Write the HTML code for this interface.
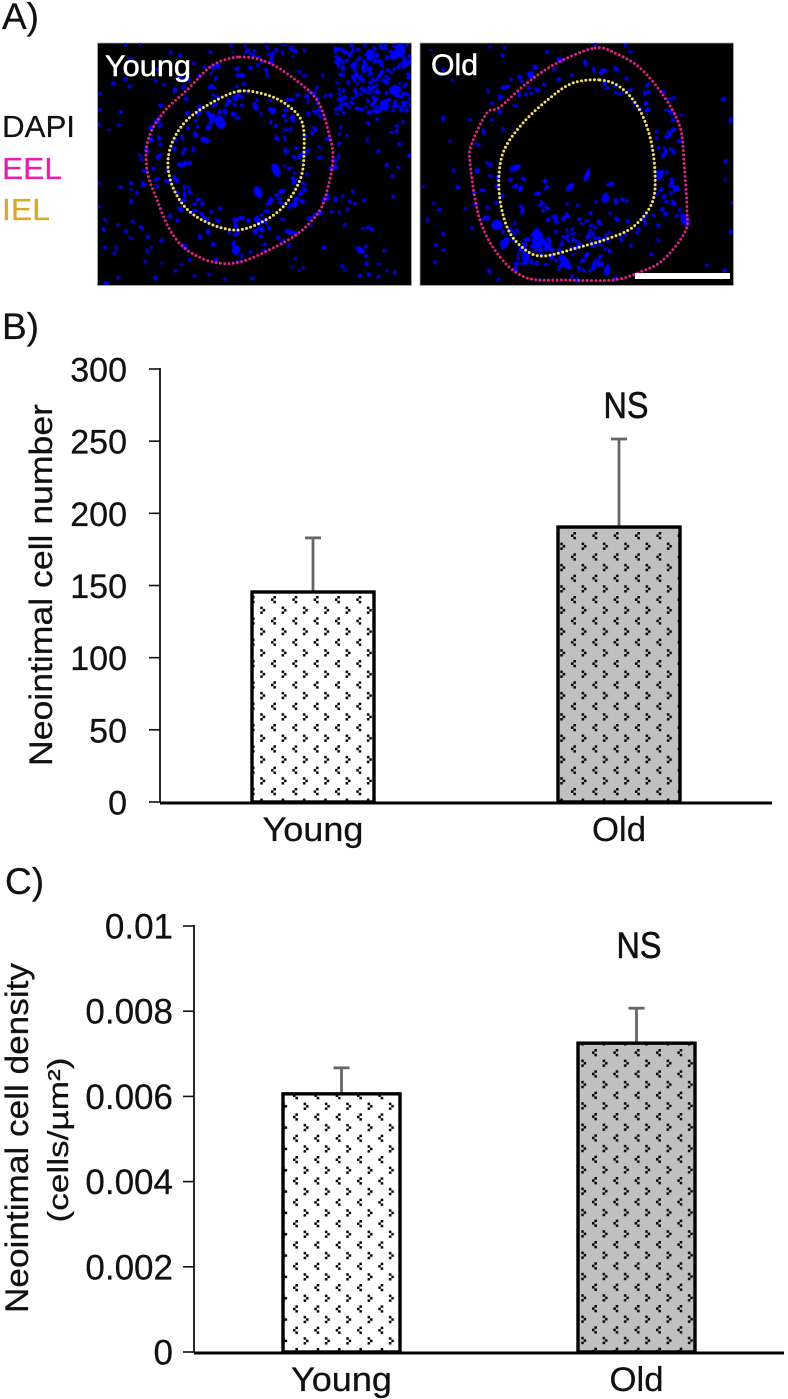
<!DOCTYPE html>
<html lang="en">
<head>
<meta charset="utf-8">
<title>Neointimal cell number and density, young vs old</title>
<style>
html,body{margin:0;padding:0;background:#fff;}
body{width:788px;height:1399px;overflow:hidden;}
svg{display:block;}
text{font-family:"Liberation Sans",sans-serif;fill:#111;stroke:#111;stroke-width:0.25px;}
</style>
</head>
<body>
<svg id="figure" xmlns="http://www.w3.org/2000/svg" width="788" height="1399" viewBox="0 0 788 1399">
  <defs>
    <filter id="soft" x="-5%" y="-5%" width="110%" height="110%"><feGaussianBlur stdDeviation="0.45"/></filter>
    <clipPath id="clip-young"><rect x="98" y="43" width="313" height="242"/></clipPath>
    <clipPath id="clip-old"><rect x="420" y="43" width="313" height="242"/></clipPath>
    <g id="chev-l"><rect x="2.4" y="0" width="2.5" height="2.5"/><rect x="0" y="2.4" width="2.5" height="2.5"/><rect x="2.4" y="4.8" width="2.5" height="2.5"/></g>
    <g id="chev-r"><rect x="0" y="0" width="2.5" height="2.5"/><rect x="2.4" y="2.4" width="2.5" height="2.5"/><rect x="0" y="4.8" width="2.5" height="2.5"/></g>
    <pattern id="dots-b-young" patternUnits="userSpaceOnUse" x="271" y="596" width="21.33" height="21.33"><use href="#chev-l"/><use href="#chev-r" x="10.6" y="10.6"/></pattern>
    <pattern id="dots-b-old" patternUnits="userSpaceOnUse" x="571" y="532" width="21.33" height="21.33"><use href="#chev-l"/><use href="#chev-r" x="10.6" y="10.6"/></pattern>
    <pattern id="dots-c-young" patternUnits="userSpaceOnUse" x="293" y="1220" width="21.33" height="21.33"><use href="#chev-l"/><use href="#chev-r" x="10.6" y="10.6"/></pattern>
    <pattern id="dots-c-old" patternUnits="userSpaceOnUse" x="592" y="1049" width="21.33" height="21.33"><use href="#chev-l"/><use href="#chev-r" x="10.6" y="10.6"/></pattern>
  </defs>

  <g id="panel-a">
    <text x="2" y="29" font-size="37">A)</text>
    <text x="2" y="137" font-size="31" textLength="73" lengthAdjust="spacingAndGlyphs">DAPI</text>
    <text x="2" y="179" font-size="31" textLength="60" lengthAdjust="spacingAndGlyphs" style="fill:#e81fae;stroke:#e81fae">EEL</text>
    <text x="2" y="220" font-size="31" textLength="48" lengthAdjust="spacingAndGlyphs" style="fill:#dba922;stroke:#dba922">IEL</text>

    <rect x="97.5" y="43" width="314" height="242.5" fill="#000" stroke="#aaa" stroke-width="0.8"/>
    <rect x="420" y="43" width="313.5" height="242.5" fill="#000" stroke="#aaa" stroke-width="0.8"/>
    <g id="young-nuclei" clip-path="url(#clip-young)" filter="url(#soft)"></g>
    <g id="old-nuclei" clip-path="url(#clip-old)" filter="url(#soft)"></g>
    <g id="rings"></g>
    <text x="105" y="76" font-size="30" textLength="86" lengthAdjust="spacingAndGlyphs" style="fill:#fff;stroke:#fff;stroke-width:0.5px">Young</text>
    <text x="431" y="75" font-size="30" textLength="47" lengthAdjust="spacingAndGlyphs" style="fill:#fff;stroke:#fff;stroke-width:0.5px">Old</text>
    <rect x="635" y="273" width="95" height="6" fill="#fff"/>
  </g>

  <text x="2" y="339" font-size="37">B)</text>
  <g id="chart-b"></g>
  <text x="5" y="894" font-size="37">C)</text>
  <g id="chart-c"></g>
</svg>

<script>
// Chart data
const categories = ['Young', 'Old'];
const cellNumberValues = [145.5, 190.5];
const cellNumberErrors = [37.5, 61];
const cellNumberTicks = [0, 50, 100, 150, 200, 250, 300];
const cellNumberTickLabels = ['0', '50', '100', '150', '200', '250', '300'];
const cellDensityValues = [0.00606, 0.00725];
const cellDensityErrors = [0.00061, 0.00082];
const cellDensityTicks = [0, 0.002, 0.004, 0.006, 0.008, 0.01];
const cellDensityTickLabels = ['0', '0.002', '0.004', '0.006', '0.008', '0.01'];

const SVG_NS = 'http://www.w3.org/2000/svg';
function make(parent, tag, attrs, text) {
  const el = document.createElementNS(SVG_NS, tag);
  for (const k in attrs) el.setAttribute(k, attrs[k]);
  if (text !== undefined) el.textContent = text;
  parent.appendChild(el);
  return el;
}

function drawChart(cfg) {
  const root = document.getElementById(cfg.id);
  const y = v => cfg.y0 + (v - cfg.min) / (cfg.max - cfg.min) * (cfg.yTop - cfg.y0);
  const band = (cfg.xRight - cfg.xLeft) / cfg.categories.length;
  const x = i => cfg.xLeft + band * (i + 0.5);

  cfg.ticks.forEach((t, i) => {
    const tick = make(root, 'line', {x1: cfg.xLeft - 11, x2: cfg.xLeft, y1: y(t), y2: y(t), stroke: '#111', 'stroke-width': 1.6});
    
    
    const lab = make(root, 'text', {x: cfg.xLeft - cfg.labelGap, y: y(t) + 12.5, 'font-size': cfg.tickFont, 'text-anchor': 'end'}, cfg.tickLabels[i]);
    
    
  });

  const yAxis = make(root, 'line', {x1: cfg.xLeft, x2: cfg.xLeft, y1: y(cfg.max) - 1, y2: cfg.y0 + 1, stroke: '#111', 'stroke-width': 1.8});
  
  

  cfg.categories.forEach((c, i) => {
    const top = y(cfg.values[i]);
    const errTop = y(cfg.values[i] + cfg.errors[i]);
    const err = make(root, 'line', {x1: x(i), x2: x(i), y1: top, y2: errTop, stroke: '#666', 'stroke-width': 2.8});
    
    
    const cap = make(root, 'line', {x1: x(i) - 8, x2: x(i) + 8, y1: errTop, y2: errTop, stroke: '#666', 'stroke-width': 2.8});
    
    

    const base = make(root, 'rect', {x: x(i) - cfg.barW / 2, y: top, width: cfg.barW, height: cfg.y0 - top, fill: i === 0 ? '#fff' : '#c0c0c0'});
    
    
    const bar = make(root, 'rect', {x: x(i) - cfg.barW / 2, y: top, width: cfg.barW, height: cfg.y0 - top, fill: 'url(#' + cfg.patterns[i] + ')', stroke: '#000', 'stroke-width': 3.4});
    
    

    const lab = make(root, 'text', {x: x(i), y: cfg.labelY, 'font-size': 34, 'text-anchor': 'middle', textLength: i === 0 ? 101 : 54, lengthAdjust: 'spacingAndGlyphs'}, c);
    
    
  });

  const xAxis = make(root, 'line', {x1: cfg.xLeft, x2: cfg.xRight, y1: cfg.y0 + 1, y2: cfg.y0 + 1, stroke: '#000', 'stroke-width': 3});
  
  

  const ns = make(root, 'text', {x: cfg.nsX, y: cfg.nsY, 'font-size': 37, 'text-anchor': 'middle', textLength: 45, lengthAdjust: 'spacingAndGlyphs', style: 'stroke-width:0.6px'}, 'NS');
  
  

  cfg.titles.forEach(t => {
    const title = make(root, 'text', {transform: 'translate(' + t.x + ',' + t.y + ') rotate(-90)', 'font-size': t.size, 'text-anchor': 'middle', textLength: t.len, lengthAdjust: 'spacingAndGlyphs'}, t.text);
    
    
  });
}

drawChart({
  id: 'chart-b', categories: categories, values: cellNumberValues, errors: cellNumberErrors,
  ticks: cellNumberTicks, tickLabels: cellNumberTickLabels, min: 0, max: 300,
  y0: 802, yTop: 369, xLeft: 160, xRight: 772, barW: 122, labelY: 841,
  labelGap: 33, tickFont: 34,
  patterns: ['dots-b-young', 'dots-b-old'], nsX: 626, nsY: 418,
  titles: [{x: 52, y: 585, len: 362, size: 32, text: 'Neointimal cell number'}]
});
drawChart({
  id: 'chart-c', categories: categories, values: cellDensityValues, errors: cellDensityErrors,
  ticks: cellDensityTicks, tickLabels: cellDensityTickLabels, min: 0, max: 0.01,
  y0: 1352, yTop: 926, xLeft: 194, xRight: 784, barW: 117, labelY: 1391,
  labelGap: 21, tickFont: 35,
  patterns: ['dots-c-young', 'dots-c-old'], nsX: 639, nsY: 958,
  titles: [
    {x: 28, y: 1138, len: 350, size: 32, text: 'Neointimal cell density'},
    {x: 68, y: 1140, len: 165, size: 29, text: '(cells/\u00b5m\u00b2)'}
  ]
});

// Micrograph outlines
const youngEel = [[240,57],[267,62],[293,78],[317,100],[328,130],[333,157],[328,187],[320,210],[300,232],[273,248],[240,262],[213,262],[187,250],[170,230],[157,200],[147,170],[148,140],[163,113],[187,90],[213,65]];
const youngIel = [[240,91],[267,95],[287,105],[302,122],[304,153],[300,180],[283,207],[260,223],[237,230],[213,225],[190,212],[175,192],[168,167],[172,143],[187,120],[213,102]];
const oldEel = [[595,48],[617,54],[640,68],[663,95],[680,127],[684,163],[687,210],[685,232],[663,260],[640,272],[613,280],[567,280],[527,278],[500,257],[480,220],[470,163],[472,143],[487,113],[500,107],[527,83],[557,63]];
const oldIel = [[600,80],[620,87],[638,107],[650,137],[655,173],[652,203],[633,227],[607,239],[580,247],[543,256],[523,248],[507,227],[499,190],[503,153],[523,123],[550,98],[573,83]];

function smoothPath(p) {
  let d = 'M' + p[0][0] + ' ' + p[0][1];
  const n = p.length;
  for (let i = 0; i < n; i++) {
    const a = p[(i - 1 + n) % n], b = p[i], c = p[(i + 1) % n], e = p[(i + 2) % n];
    d += ' C' + (b[0] + (c[0] - a[0]) / 6) + ' ' + (b[1] + (c[1] - a[1]) / 6) + ' ' + (c[0] - (e[0] - b[0]) / 6) + ' ' + (c[1] - (e[1] - b[1]) / 6) + ' ' + c[0] + ' ' + c[1];
  }
  return d + 'Z';
}

const ringGroup = document.getElementById('rings');
[[youngEel, '#d4257f', 'young-eel-outline'], [youngIel, '#f0dc6a', 'young-iel-outline'], [oldEel, '#d4257f', 'old-eel-outline'], [oldIel, '#f0dc6a', 'old-iel-outline']].forEach(r => {
  const ring = make(ringGroup, 'path', {d: smoothPath(r[0]), fill: 'none', stroke: r[1], 'stroke-width': 3, 'stroke-linecap': 'round', 'stroke-dasharray': '0 4.3'});
  
  
});

// Decorative nuclei texture for the micrographs (not chart data)
let seed = 20240;
function rnd() { seed = (seed * 16807) % 2147483647; return seed / 2147483647; }

function blob(group, cx, cy, rx, ry) {
  const b = make(group, 'ellipse', {cx: cx, cy: cy, rx: rx, ry: ry, fill: '#0505ff', transform: 'rotate(' + Math.floor(rnd() * 180) + ' ' + cx + ' ' + cy + ')'});
  
  
}
function annulus(group, cx, cy, r0, r1, n, a0, a1) {
  for (let i = 0; i < n; i++) {
    const a = a0 + rnd() * (a1 - a0), r = r0 + rnd() * (r1 - r0);
    blob(group, cx + Math.cos(a) * r, cy + Math.sin(a) * r, 1.6 + rnd() * 2.2, 1.3 + rnd() * 1.1);
  }
}
function patch(group, x0, y0, x1, y1, n, skipX, skipY, skipR) {
  for (let i = 0; i < n; i++) {
    const x = x0 + rnd() * (x1 - x0), y = y0 + rnd() * (y1 - y0);
    if (Math.hypot(x - skipX, y - skipY) < skipR) continue;
    blob(group, x, y, 1.4 + rnd() * 1.6, 1.2 + rnd() * 0.9);
  }
}

const yg = document.getElementById('young-nuclei');
annulus(yg, 238, 165, 46, 74, 150, 0, 6.283);
annulus(yg, 238, 163, 76, 100, 85, 0, 6.283);
patch(yg, 98, 43, 411, 285, 240, 238, 163, 95);
patch(yg, 335, 45, 411, 115, 190, 0, 0, 0);
patch(yg, 220, 43, 300, 58, 18, 0, 0, 0);
[[220,122,7,5],[212,118,5,3],[258,192,6,4],[276,170,4,7],[205,140,5,3],[360,250,5,3],[395,55,6,4],[385,105,6,4],[236,250,5,4],[290,232,6,2.5],[400,50,7,5],[370,55,6,4],[395,90,6,5]].forEach(b => blob(yg, b[0], b[1], b[2], b[3]));

const og = document.getElementById('old-nuclei');
annulus(og, 577, 165, 80, 108, 140, 0, 6.283);
annulus(og, 577, 175, 30, 72, 50, 0.2, 3.2);
patch(og, 420, 43, 733, 285, 120, 577, 165, 105);
patch(og, 515, 225, 610, 270, 70, 0, 0, 0);
[[536,240,9,4],[545,243,11,3],[497,225,5,6],[505,243,7,3.5],[525,258,7,3],[565,262,9,4],[607,270,6,3],[685,220,4,7],[570,187,5,3],[587,175,7,2.5],[515,168,3,6],[660,175,3,6],[560,60,4,3],[530,75,3,4]].forEach(b => blob(og, b[0], b[1], b[2], b[3]));
</script>
</body>
</html>
